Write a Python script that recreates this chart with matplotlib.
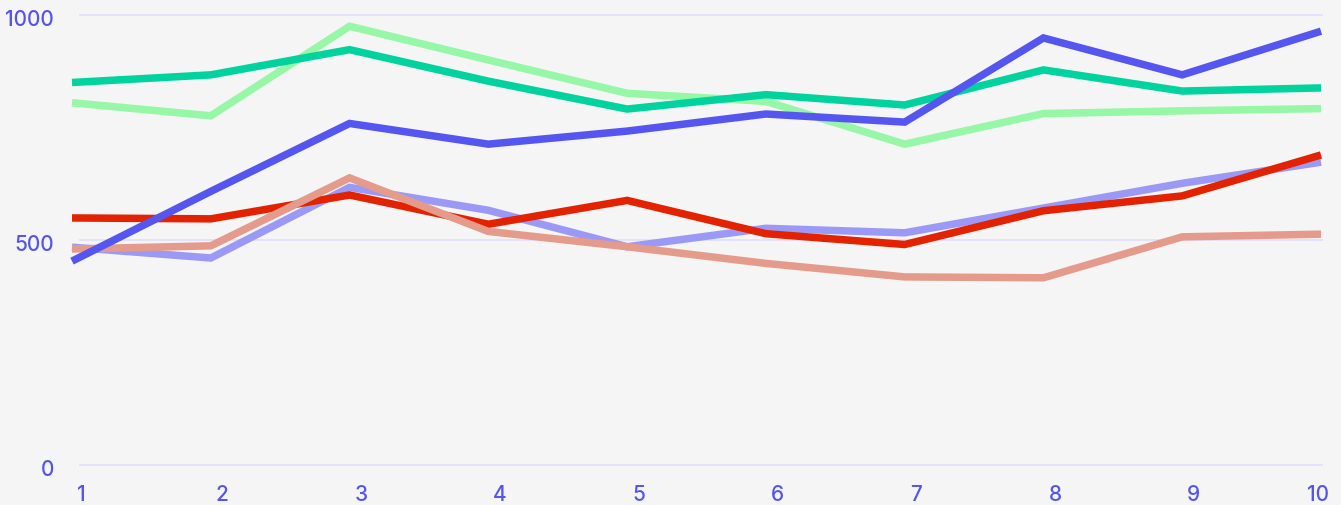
import matplotlib
matplotlib.use("Agg")
import matplotlib.pyplot as plt
import matplotlib.transforms as mtransforms

# ===============================
# Data
# ===============================
x_vals = [1, 2, 3, 4, 5, 6, 7, 8, 9, 10]
y_ticks = [0, 500, 1000]

green = [805, 776, 975, 900, 826, 808, 713, 781, 787, 792]
teal = [850, 867, 923, 853, 791, 823, 800, 878, 831, 838]
purple = [484, 460, 617, 566, 485, 526, 516, 571, 626, 673]
red = [549, 547, 600, 535, 588, 514, 490, 565, 598, 689]
salmon = [480, 487, 638, 519, 485, 448, 418, 416, 507, 513]
blue = [453, 608, 759, 713, 742, 780, 762, 949, 867, 964]

# drawn bottom to top
series = [green, teal, purple, red, salmon, blue]
colors = ["#96F7A6", "#00D39E", "#9A9AF6", "#E22200", "#E59B8B", "#5555F0"]

bg = "#F5F5F5"
label_color = "#5555EE"
grid_color = "#E0E0FB"

plt.rcParams['font.family'] = ['Inter', 'DejaVu Sans']

# ===============================
# Figure
# ===============================
fig = plt.figure(figsize=(13.41, 5.06), dpi=100, facecolor=bg)
ax = fig.add_axes([72 / 1341, 40 / 506, 1249 / 1341, 450 / 506])
ax.set_facecolor(bg)

ax.set_xlim(1, 10)
ax.set_ylim(0, 1000)

# gridlines (start a bit right of x=1, like the original)
ax.hlines(y_ticks, 1.05, 10.015, colors=grid_color, linewidth=1.3, zorder=0, clip_on=False)

for vals, c in zip(series, colors):
    ax.plot(x_vals, vals, color=c, linewidth=5.4, solid_capstyle="butt",
            solid_joinstyle="miter", clip_on=False)

for s in ax.spines.values():
    s.set_visible(False)

ax.set_yticks(y_ticks)
ax.set_yticklabels([str(v) for v in y_ticks])
ax.set_xticks(x_vals)
ax.set_xticklabels([str(v) for v in x_vals])
ax.tick_params(axis="both", length=0, labelsize=15, labelcolor=label_color)
ax.tick_params(axis="y", pad=13)
ax.tick_params(axis="x", pad=14)
for lab in ax.get_xticklabels() + ax.get_yticklabels():
    lab.set_fontweight("medium")

# x labels sit to the right of their tick; the last one is flush right
xlabels = ax.get_xticklabels()
for lab in xlabels[:-1]:
    lab.set_horizontalalignment("left")
    lab.set_transform(lab.get_transform() + mtransforms.ScaledTranslation(5 / 100, 0, fig.dpi_scale_trans))
xlabels[-1].set_horizontalalignment("right")
xlabels[-1].set_transform(xlabels[-1].get_transform() + mtransforms.ScaledTranslation(8 / 100, 0, fig.dpi_scale_trans))

for lab in ax.get_yticklabels():
    lab.set_transform(lab.get_transform() + mtransforms.ScaledTranslation(0, -2 / 100, fig.dpi_scale_trans))

fig.savefig("out.png", dpi=100, facecolor=bg)
